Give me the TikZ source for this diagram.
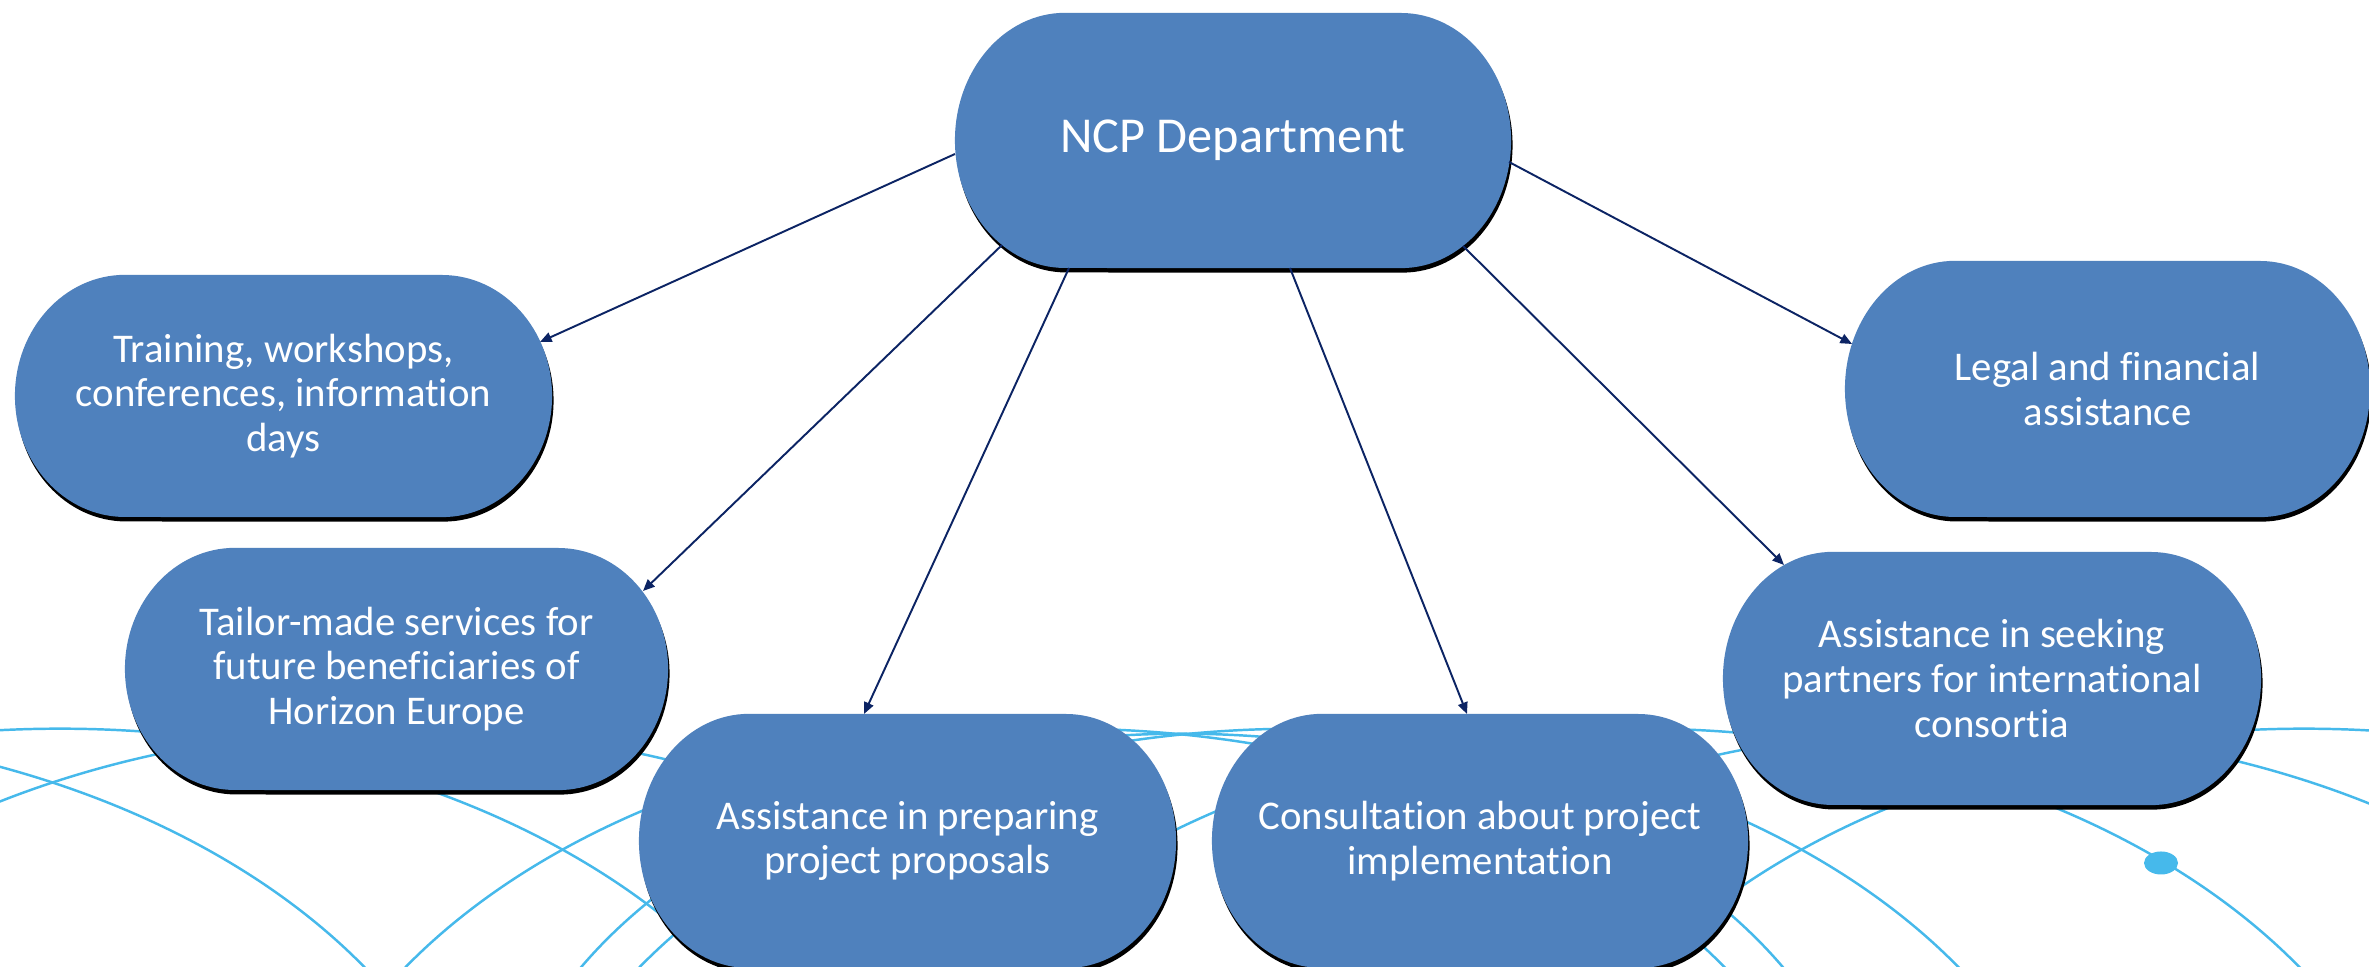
\documentclass[tikz,border=0pt]{standalone}
\usepackage{fontspec}
\setmainfont{Carlito}[Ligatures=NoCommon]
\usetikzlibrary{arrows.meta,calc}
\definecolor{nodeblue}{RGB}{79,129,189}
\definecolor{arcblue}{RGB}{70,185,235}
\definecolor{arrowblue}{RGB}{12,36,100}
\newcommand\pillfont{\fontsize{11.6}{12.7}\selectfont}
\newcommand\bigpillfont{\fontsize{14.3}{16.5}\selectfont}
% #1 name, #2 cx, #3 cy, #4 half width, #5 half height, #6 font, #7 text (px units, y up)
\newcommand\pill[7]{%
  \pgfmathsetmacro\pillry{#5/100}%
  \pgfmathsetmacro\pillw{2*#4/100}%
  \pgfmathsetmacro\pillh{2*#5/100}%
  \fill[pillshadow] ({#2-#4+110+1.5},{#3+#5-4.5}) -- ({#2+#4-110+1.5},{#3+#5-4.5})
    arc[start angle=90,end angle=-90,x radius=1.1cm,y radius=\pillry cm]
    -- ({#2-#4+110+1.5},{#3-#5-4.5})
    arc[start angle=270,end angle=90,x radius=1.1cm,y radius=\pillry cm] -- cycle;
  \fill[pillfill] ({#2-#4+110},{#3+#5}) -- ({#2+#4-110},{#3+#5})
    arc[start angle=90,end angle=-90,x radius=1.1cm,y radius=\pillry cm]
    -- ({#2-#4+110},{#3-#5})
    arc[start angle=270,end angle=90,x radius=1.1cm,y radius=\pillry cm] -- cycle;
  \node[pilltext,font=#6,minimum width=\pillw cm,minimum height=\pillh cm] (#1) at (#2,#3) {#7};
}
\tikzset{
  pillfill/.style={fill=nodeblue},
  pillshadow/.style={fill=black},
  pilltext/.style={text=white,align=center,inner sep=0pt},
  bgarc/.style={draw=arcblue,line width=0.7pt},
  conn/.style={draw=arrowblue,line width=0.55pt,-{Triangle[length=3.3pt,width=2.8pt]}},
}
\begin{document}
\begin{tikzpicture}[x=0.01cm,y=0.01cm]
\useasboundingbox (0,0) rectangle (2369,967);
\fill[white] (0,0) rectangle (2369,967);
% background arcs
\begin{scope}
\clip (0,0) rectangle (2369,967);
\foreach \xt in {-295,60,400,1065,1299,1640,1964,2304}{
  \draw[bgarc] (\xt,-286) ellipse [x radius=7.86cm, y radius=5.24cm];
}
\draw[bgarc] (1182,-227) ellipse [x radius=6.9cm, y radius=4.6cm];
\fill[arcblue] (2161,104) ellipse [x radius=0.17cm, y radius=0.115cm];
\end{scope}
% nodes
\pill{ncp}{1233}{826.5}{278}{127.5}{\bigpillfont}{NCP Department}
\pill{train}{283.5}{571}{268.5}{121}{\pillfont}{Training, workshops,\\conferences, information\\days}
\pill{legal}{2107.5}{578}{262.5}{128}{\pillfont}{Legal and financial\\assistance}
\pill{tailor}{396.5}{298}{271.5}{121}{\pillfont}{Tailor-made services for\\future beneficiaries of\\Horizon Europe}
\pill{seek}{1992}{288.5}{269}{126.5}{\pillfont}{Assistance in seeking\\partners for international\\consortia}
\pill{prep}{907.5}{126}{268.5}{127}{\pillfont}{Assistance in preparing\\project proposals}
\pill{consult}{1480}{126}{268}{127}{\pillfont}{Consultation about project\\implementation}
% connectors
\draw[conn] ($(ncp.center)+(-278,-13.5)$) -- ($(train.center)+(256.5,54)$);
\draw[conn] ($(ncp.center)+(-231,-104.5)$) -- ($(tailor.center)+(246.5,78)$);
\draw[conn] ($(ncp.center)+(-164,-127.5)$) -- ($(prep.center)+(-43.5,127)$);
\draw[conn] ($(ncp.center)+(57,-127.5)$) -- ($(consult.center)+(-13,127)$);
\draw[conn] ($(ncp.center)+(230,-105.5)$) -- ($(seek.center)+(-208,113.5)$);
\draw[conn] ($(ncp.center)+(276,-21.5)$) -- ($(legal.center)+(-255.5,45)$);
\end{tikzpicture}
\end{document}
